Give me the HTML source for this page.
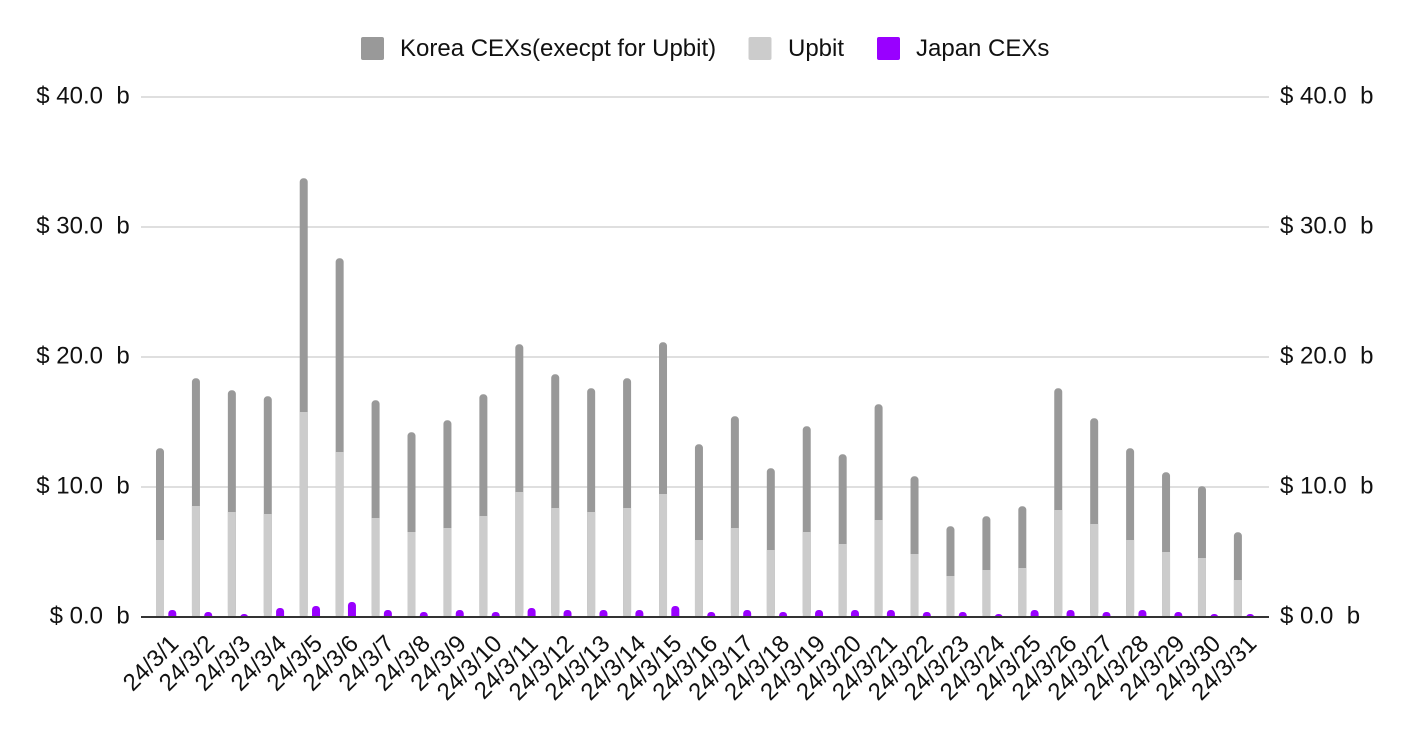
<!DOCTYPE html>
<html>
<head>
<meta charset="utf-8">
<style>
  html,body{margin:0;padding:0;background:#fff;}
  svg{display:block;}
  text{font-family:"Liberation Sans",Arial,sans-serif;fill:#111;white-space:pre;}
</style>
</head>
<body>
<svg width="1410" height="730" viewBox="0 0 1410 730" xmlns="http://www.w3.org/2000/svg">
  <defs>
    <clipPath id="c"><rect x="0" y="0" width="1410" height="616"/></clipPath>
  </defs>
  <rect width="1410" height="730" fill="#fff"/>

  <!-- Legend -->
  <rect x="361" y="37" width="23" height="23" rx="2" fill="#999999"/>
  <text x="400" y="56" font-size="24">Korea CEXs(execpt for Upbit)</text>
  <rect x="748.5" y="37" width="23" height="23" rx="2" fill="#cccccc"/>
  <text x="788" y="56" font-size="24">Upbit</text>
  <rect x="877" y="37" width="23" height="23" rx="2" fill="#9900ff"/>
  <text x="916" y="56" font-size="24">Japan CEXs</text>

  <!-- Gridlines -->
  <g stroke="#cccccc" stroke-width="1.3">
    <line x1="141" y1="97" x2="1269" y2="97"/>
    <line x1="141" y1="227" x2="1269" y2="227"/>
    <line x1="141" y1="357" x2="1269" y2="357"/>
    <line x1="141" y1="487" x2="1269" y2="487"/>
  </g>

  <!-- Left axis labels -->
  <g font-size="24" text-anchor="end">
    <text x="129.7" y="103.5">$ 40.0  b</text>
    <text x="129.7" y="233.5">$ 30.0  b</text>
    <text x="129.7" y="363.5">$ 20.0  b</text>
    <text x="129.7" y="493.5">$ 10.0  b</text>
    <text x="129.7" y="623.5">$ 0.0  b</text>
  </g>
  <!-- Right axis labels -->
  <g font-size="24">
    <text x="1280" y="103.5">$ 40.0  b</text>
    <text x="1280" y="233.5">$ 30.0  b</text>
    <text x="1280" y="363.5">$ 20.0  b</text>
    <text x="1280" y="493.5">$ 10.0  b</text>
    <text x="1280" y="623.5">$ 0.0  b</text>
  </g>

  <!-- Korea CEXs (excluding Upbit) -->
  <g fill="#999999">
    <rect x="156.00" y="448.3" width="8" height="167.7" rx="3.5"/>
    <rect x="191.93" y="378.3" width="8" height="237.7" rx="3.5"/>
    <rect x="227.86" y="390.3" width="8" height="225.7" rx="3.5"/>
    <rect x="263.79" y="396.3" width="8" height="219.7" rx="3.5"/>
    <rect x="299.72" y="178.3" width="8" height="437.7" rx="3.5"/>
    <rect x="335.65" y="258.3" width="8" height="357.7" rx="3.5"/>
    <rect x="371.58" y="400.3" width="8" height="215.7" rx="3.5"/>
    <rect x="407.51" y="432.3" width="8" height="183.7" rx="3.5"/>
    <rect x="443.44" y="420.3" width="8" height="195.7" rx="3.5"/>
    <rect x="479.37" y="394.3" width="8" height="221.7" rx="3.5"/>
    <rect x="515.30" y="344.3" width="8" height="271.7" rx="3.5"/>
    <rect x="551.23" y="374.3" width="8" height="241.7" rx="3.5"/>
    <rect x="587.16" y="388.3" width="8" height="227.7" rx="3.5"/>
    <rect x="623.09" y="378.3" width="8" height="237.7" rx="3.5"/>
    <rect x="659.02" y="342.3" width="8" height="273.7" rx="3.5"/>
    <rect x="694.95" y="444.3" width="8" height="171.7" rx="3.5"/>
    <rect x="730.88" y="416.3" width="8" height="199.7" rx="3.5"/>
    <rect x="766.81" y="468.3" width="8" height="147.7" rx="3.5"/>
    <rect x="802.74" y="426.3" width="8" height="189.7" rx="3.5"/>
    <rect x="838.67" y="454.3" width="8" height="161.7" rx="3.5"/>
    <rect x="874.60" y="404.3" width="8" height="211.7" rx="3.5"/>
    <rect x="910.53" y="476.3" width="8" height="139.7" rx="3.5"/>
    <rect x="946.46" y="526.3" width="8" height="89.7" rx="3.5"/>
    <rect x="982.39" y="516.3" width="8" height="99.7" rx="3.5"/>
    <rect x="1018.32" y="506.3" width="8" height="109.7" rx="3.5"/>
    <rect x="1054.25" y="388.3" width="8" height="227.7" rx="3.5"/>
    <rect x="1090.18" y="418.3" width="8" height="197.7" rx="3.5"/>
    <rect x="1126.11" y="448.3" width="8" height="167.7" rx="3.5"/>
    <rect x="1162.04" y="472.3" width="8" height="143.7" rx="3.5"/>
    <rect x="1197.97" y="486.3" width="8" height="129.7" rx="3.5"/>
    <rect x="1233.90" y="532.3" width="8" height="83.7" rx="3.5"/>
  </g>

  <!-- Upbit -->
  <g fill="#cccccc">
    <rect x="156.00" y="540" width="8" height="76"/>
    <rect x="191.93" y="506" width="8" height="110"/>
    <rect x="227.86" y="512" width="8" height="104"/>
    <rect x="263.79" y="514" width="8" height="102"/>
    <rect x="299.72" y="412" width="8" height="204"/>
    <rect x="335.65" y="452" width="8" height="164"/>
    <rect x="371.58" y="518" width="8" height="98"/>
    <rect x="407.51" y="532" width="8" height="84"/>
    <rect x="443.44" y="528" width="8" height="88"/>
    <rect x="479.37" y="516" width="8" height="100"/>
    <rect x="515.30" y="492" width="8" height="124"/>
    <rect x="551.23" y="508" width="8" height="108"/>
    <rect x="587.16" y="512" width="8" height="104"/>
    <rect x="623.09" y="508" width="8" height="108"/>
    <rect x="659.02" y="494" width="8" height="122"/>
    <rect x="694.95" y="540" width="8" height="76"/>
    <rect x="730.88" y="528" width="8" height="88"/>
    <rect x="766.81" y="550" width="8" height="66"/>
    <rect x="802.74" y="532" width="8" height="84"/>
    <rect x="838.67" y="544" width="8" height="72"/>
    <rect x="874.60" y="520" width="8" height="96"/>
    <rect x="910.53" y="554" width="8" height="62"/>
    <rect x="946.46" y="576" width="8" height="40"/>
    <rect x="982.39" y="570" width="8" height="46"/>
    <rect x="1018.32" y="568" width="8" height="48"/>
    <rect x="1054.25" y="510" width="8" height="106"/>
    <rect x="1090.18" y="524" width="8" height="92"/>
    <rect x="1126.11" y="540" width="8" height="76"/>
    <rect x="1162.04" y="552" width="8" height="64"/>
    <rect x="1197.97" y="558" width="8" height="58"/>
    <rect x="1233.90" y="580" width="8" height="36"/>
  </g>

  <!-- Japan CEXs -->
  <g fill="#9900ff" clip-path="url(#c)">
    <rect x="168.30" y="610" width="8" height="12" rx="3.5"/>
    <rect x="204.23" y="612" width="8" height="10" rx="3.5"/>
    <rect x="240.16" y="614" width="8" height="8" rx="3.5"/>
    <rect x="276.09" y="608" width="8" height="14" rx="3.5"/>
    <rect x="312.02" y="606" width="8" height="16" rx="3.5"/>
    <rect x="347.95" y="602" width="8" height="20" rx="3.5"/>
    <rect x="383.88" y="610" width="8" height="12" rx="3.5"/>
    <rect x="419.81" y="612" width="8" height="10" rx="3.5"/>
    <rect x="455.74" y="610" width="8" height="12" rx="3.5"/>
    <rect x="491.67" y="612" width="8" height="10" rx="3.5"/>
    <rect x="527.60" y="608" width="8" height="14" rx="3.5"/>
    <rect x="563.53" y="610" width="8" height="12" rx="3.5"/>
    <rect x="599.46" y="610" width="8" height="12" rx="3.5"/>
    <rect x="635.39" y="610" width="8" height="12" rx="3.5"/>
    <rect x="671.32" y="606" width="8" height="16" rx="3.5"/>
    <rect x="707.25" y="612" width="8" height="10" rx="3.5"/>
    <rect x="743.18" y="610" width="8" height="12" rx="3.5"/>
    <rect x="779.11" y="612" width="8" height="10" rx="3.5"/>
    <rect x="815.04" y="610" width="8" height="12" rx="3.5"/>
    <rect x="850.97" y="610" width="8" height="12" rx="3.5"/>
    <rect x="886.90" y="610" width="8" height="12" rx="3.5"/>
    <rect x="922.83" y="612" width="8" height="10" rx="3.5"/>
    <rect x="958.76" y="612" width="8" height="10" rx="3.5"/>
    <rect x="994.69" y="614" width="8" height="8" rx="3.5"/>
    <rect x="1030.62" y="610" width="8" height="12" rx="3.5"/>
    <rect x="1066.55" y="610" width="8" height="12" rx="3.5"/>
    <rect x="1102.48" y="612" width="8" height="10" rx="3.5"/>
    <rect x="1138.41" y="610" width="8" height="12" rx="3.5"/>
    <rect x="1174.34" y="612" width="8" height="10" rx="3.5"/>
    <rect x="1210.27" y="614" width="8" height="8" rx="3.5"/>
    <rect x="1246.20" y="614" width="8" height="8" rx="3.5"/>
  </g>

  <!-- Baseline axis -->
  <rect x="141" y="616" width="1128" height="2" fill="#333333"/>

  <!-- X labels -->
  <g font-size="24" text-anchor="end">
    <text transform="translate(180.00,645) rotate(-45)">24/3/1</text>
    <text transform="translate(215.93,645) rotate(-45)">24/3/2</text>
    <text transform="translate(251.86,645) rotate(-45)">24/3/3</text>
    <text transform="translate(287.79,645) rotate(-45)">24/3/4</text>
    <text transform="translate(323.72,645) rotate(-45)">24/3/5</text>
    <text transform="translate(359.65,645) rotate(-45)">24/3/6</text>
    <text transform="translate(395.58,645) rotate(-45)">24/3/7</text>
    <text transform="translate(431.51,645) rotate(-45)">24/3/8</text>
    <text transform="translate(467.44,645) rotate(-45)">24/3/9</text>
    <text transform="translate(503.37,645) rotate(-45)">24/3/10</text>
    <text transform="translate(539.30,645) rotate(-45)">24/3/11</text>
    <text transform="translate(575.23,645) rotate(-45)">24/3/12</text>
    <text transform="translate(611.16,645) rotate(-45)">24/3/13</text>
    <text transform="translate(647.09,645) rotate(-45)">24/3/14</text>
    <text transform="translate(683.02,645) rotate(-45)">24/3/15</text>
    <text transform="translate(718.95,645) rotate(-45)">24/3/16</text>
    <text transform="translate(754.88,645) rotate(-45)">24/3/17</text>
    <text transform="translate(790.81,645) rotate(-45)">24/3/18</text>
    <text transform="translate(826.74,645) rotate(-45)">24/3/19</text>
    <text transform="translate(862.67,645) rotate(-45)">24/3/20</text>
    <text transform="translate(898.60,645) rotate(-45)">24/3/21</text>
    <text transform="translate(934.53,645) rotate(-45)">24/3/22</text>
    <text transform="translate(970.46,645) rotate(-45)">24/3/23</text>
    <text transform="translate(1006.39,645) rotate(-45)">24/3/24</text>
    <text transform="translate(1042.32,645) rotate(-45)">24/3/25</text>
    <text transform="translate(1078.25,645) rotate(-45)">24/3/26</text>
    <text transform="translate(1114.18,645) rotate(-45)">24/3/27</text>
    <text transform="translate(1150.11,645) rotate(-45)">24/3/28</text>
    <text transform="translate(1186.04,645) rotate(-45)">24/3/29</text>
    <text transform="translate(1221.97,645) rotate(-45)">24/3/30</text>
    <text transform="translate(1257.90,645) rotate(-45)">24/3/31</text>
  </g>
</svg>
</body>
</html>
